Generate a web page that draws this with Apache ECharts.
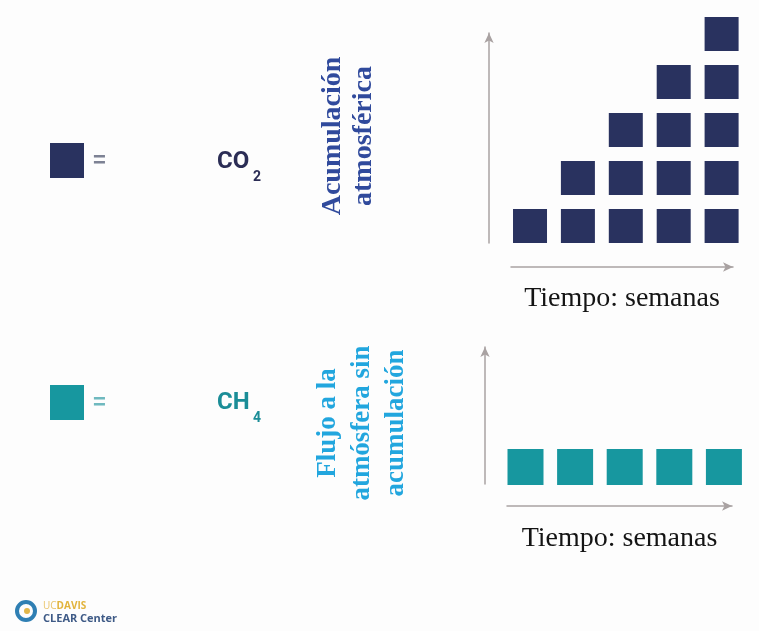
<!DOCTYPE html>
<html>
<head>
<meta charset="utf-8">
<script src="https://cdn.jsdelivr.net/npm/echarts@6/dist/echarts.min.js"></script>
<style>
html,body{margin:0;padding:0;background:#fdfdfd;}
#chart{width:759px;height:631px;}
</style>
</head>
<body>
<div id="chart"></div>
<script>
// ---- data ----
const weeks = [1, 2, 3, 4, 5];
const co2Accumulated = [1, 2, 3, 4, 5];   // stacked blocks per week (accumulates)
const ch4Flux = [1, 1, 1, 1, 1];          // blocks per week (no accumulation)
const seriesNames = ['CO2', 'CH4'];
const axisTitle = 'Tiempo: semanas';
const topLabel = 'Acumulación\natmosférica';
const bottomLabel = 'Flujo a la\natmósfera sin\nacumulación';

// ---- colours ----
const NAVY = '#29325f';
const TEAL = '#17979f';
const AXIS = '#a9a2a2';

function blocks(values) {
  const pts = [];
  values.forEach((v, i) => {
    for (let k = 1; k <= v; k++) pts.push([weeks[i], k]);
  });
  return pts;
}

function xAxisCfg(gridIndex, min, max, offset, gap) {
  return {
    type: 'value', gridIndex, min, max, position: 'bottom', offset,
    name: axisTitle, nameLocation: 'middle', nameGap: gap,
    nameTextStyle: { fontFamily: 'Liberation Serif', fontSize: 28, color: '#141414' },
    axisLine: { show: true, onZero: false, symbol: ['none', 'arrow'], symbolSize: [7, 10],
      lineStyle: { color: AXIS, width: 1.5 } },
    axisTick: { show: false }, axisLabel: { show: false }, splitLine: { show: false }
  };
}
function yAxisCfg(gridIndex, min, max, offset) {
  return {
    type: 'value', gridIndex, min, max, position: 'left', offset,
    axisLine: { show: true, onZero: false, symbol: ['none', 'arrow'], symbolSize: [7, 10],
      lineStyle: { color: AXIS, width: 1.5 } },
    axisTick: { show: false }, axisLabel: { show: false }, splitLine: { show: false }
  };
}

const chart = echarts.init(document.getElementById('chart'), null, { renderer: 'canvas' });

chart.setOption({
  backgroundColor: '#fdfdfd',
  animation: false,
  grid: [
    { left: 511, width: 222, top: 33, height: 210 },
    { left: 507, width: 225, top: 347, height: 137 }
  ],
  xAxis: [
    xAxisCfg(0, 0.603, 5.238, 24, 18),
    xAxisCfg(1, 0.627, 5.163, 22, 19)
  ],
  yAxis: [
    yAxisCfg(0, 0.646, 5.021, 22),
    yAxisCfg(1, 0.646, 3.5, 22)
  ],
  legend: {
    orient: 'vertical', left: 50, top: 143, padding: 0,
    itemWidth: 34, itemHeight: 35, itemGap: 207,
    icon: 'rect', selectedMode: false,
    formatter: () => '=',
    data: [
      { name: seriesNames[0], textStyle: { color: '#7d8294', fontSize: 22, fontWeight: 'bold', padding: [0, 0, 0, 4] } },
      { name: seriesNames[1], textStyle: { color: '#6fb9bf', fontSize: 22, fontWeight: 'bold', padding: [0, 0, 0, 4] } }
    ]
  },
  series: [
    {
      name: seriesNames[0], type: 'scatter', xAxisIndex: 0, yAxisIndex: 0,
      symbol: 'rect', symbolSize: [34, 34], clip: false,
      itemStyle: { color: NAVY, opacity: 1 },
      data: blocks(co2Accumulated)
    },
    {
      name: seriesNames[1], type: 'scatter', xAxisIndex: 1, yAxisIndex: 1,
      symbol: 'rect', symbolSize: [36, 36], clip: false,
      itemStyle: { color: TEAL, opacity: 1 },
      data: blocks(ch4Flux)
    }
  ],
  graphic: [
    // CO2 label
    { type: 'text', x: 217, y: 162, style: { text: 'CO', fill: '#2b2d55', font: 'bold 24px Roboto', align: 'left', verticalAlign: 'middle' } },
    { type: 'text', x: 253, y: 177, style: { text: '2', fill: '#2b2d55', font: 'bold 14px Roboto', align: 'left', verticalAlign: 'middle' } },
    // CH4 label
    { type: 'text', x: 217, y: 403, style: { text: 'CH', fill: '#1b8d97', font: 'bold 24px Roboto', align: 'left', verticalAlign: 'middle' } },
    { type: 'text', x: 253, y: 418, style: { text: '4', fill: '#1b8d97', font: 'bold 14px Roboto', align: 'left', verticalAlign: 'middle' } },
    // rotated labels
    { type: 'text', x: 348, y: 136, rotation: Math.PI / 2,
      style: { text: topLabel, fill: '#304a9c', font: 'bold 28px "Liberation Serif"', align: 'center', verticalAlign: 'middle', lineHeight: 31 } },
    { type: 'text', x: 362, y: 423, rotation: Math.PI / 2,
      style: { text: bottomLabel, fill: '#22a6de', font: 'bold 27px "Liberation Serif"', align: 'center', verticalAlign: 'middle', lineHeight: 34 } },
    // logo
    { type: 'circle', shape: { cx: 26, cy: 611, r: 9 }, style: { fill: 'none', stroke: '#2f7fb3', lineWidth: 4 } },
    { type: 'circle', shape: { cx: 27, cy: 611, r: 3 }, style: { fill: '#e0b64a' } },
    { type: 'text', x: 43, y: 606, style: { text: '{u|UC}{d|DAVIS}', align: 'left', verticalAlign: 'middle',
      rich: { u: { font: '10px "Open Sans"', fill: '#e9c46a' }, d: { font: 'bold 10px "Open Sans"', fill: '#e2b43c' } } } },
    { type: 'text', x: 43, y: 619, style: { text: 'CLEAR Center', fill: '#3e5a86', font: 'bold 11px "Open Sans"', align: 'left', verticalAlign: 'middle' } }
  ]
});
</script>
</body>
</html>
